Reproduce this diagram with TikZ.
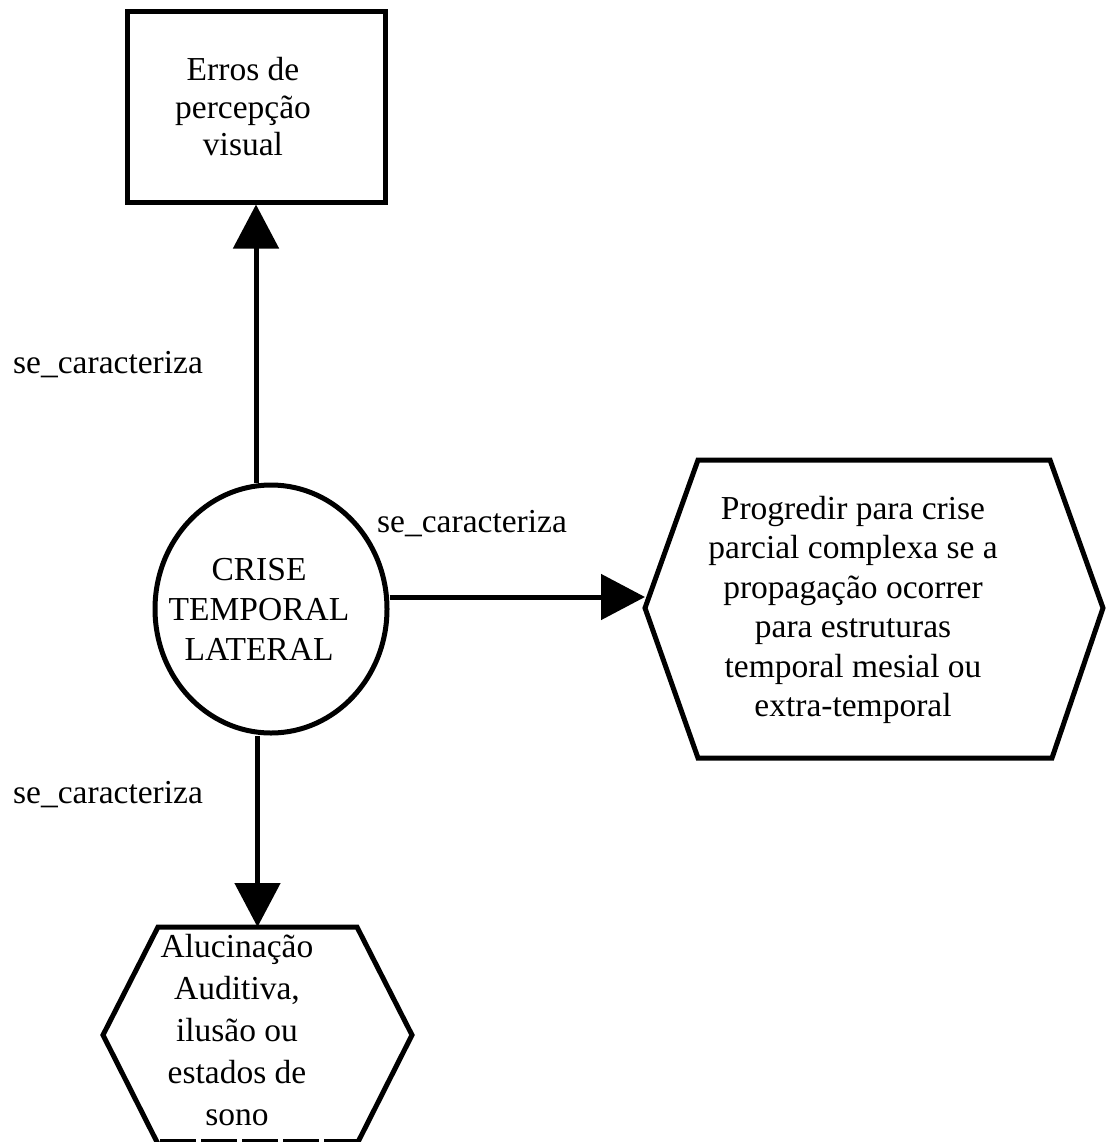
\documentclass[tikz,border=0pt]{standalone}
\usepackage{fontspec}
\setmainfont{Liberation Serif}
\usetikzlibrary{shapes.geometric,arrows.meta}
\begin{document}
\begin{tikzpicture}[x=1pt,y=-1pt,
  shapeline/.style={draw=black,line width=5pt,line join=miter},
  txt/.style={inner sep=0pt,align=center},
  rel/.style={font=\fontsize{33.5}{40}\selectfont,inner sep=0pt,anchor=base west},
  link/.style={draw=black,line width=5pt,-{Triangle[length=44pt,width=45pt]}}
]
\useasboundingbox (0,0) rectangle (1110,1142);

% upper concept: rectangle
\node[shapeline,rectangle,minimum width=258pt,minimum height=190pt,inner sep=0pt] (erros) at (256,107) {};
\node[txt,font=\fontsize{33.5}{37.5}\selectfont] (erros-txt) at (243,107) {Erros de\\percepção\\visual};

% central concept: ellipse
\node[shapeline,ellipse,minimum width=232pt,minimum height=248pt,inner sep=0pt] (crise) at (271,609) {};
\node[txt,font=\fontsize{33.5}{40}\selectfont] (crise-txt) at (259,609) {CRISE\\TEMPORAL\\LATERAL};

% right concept: hexagon
\coordinate (pw) at (645,608);
\draw[shapeline] (pw) -- (698,460) -- (1050,460) -- (1103,608) -- (1052,758) -- (698,758) -- cycle;
\node[txt,font=\fontsize{33.5}{39.4}\selectfont] (prog-txt) at (853,610) {Progredir para crise\\parcial complexa se a\\propagação ocorrer\\para estruturas\\temporal mesial ou\\extra-temporal};

% lower concept: hexagon with a broken lower edge
\coordinate (an) at (257.5,927);
\draw[shapeline] (158,1144) -- (103,1035) -- (158,927) -- (357,927) -- (412,1035) -- (357,1144);
\draw[line width=3pt,dash pattern=on 36pt off 5pt] (160,1140) -- (357,1140);
\node[txt,font=\fontsize{33.5}{42}\selectfont] (aluc-txt) at (237,1030) {Alucinação\\Auditiva,\\ilusão ou\\estados de\\sono};

% relations
\draw[link] (erros.south |- crise.north) -- (erros.south);
\draw[link] ([yshift=12pt]crise.east) -- ([yshift=12pt]crise.east -| pw);
\draw[link] (an |- crise.south) -- (an);

\node[rel] (rel-up) at (13,373) {se\_caracteriza};
\node[rel] (rel-right) at (377,532) {se\_caracteriza};
\node[rel] (rel-down) at (13,803) {se\_caracteriza};
\end{tikzpicture}
\end{document}
